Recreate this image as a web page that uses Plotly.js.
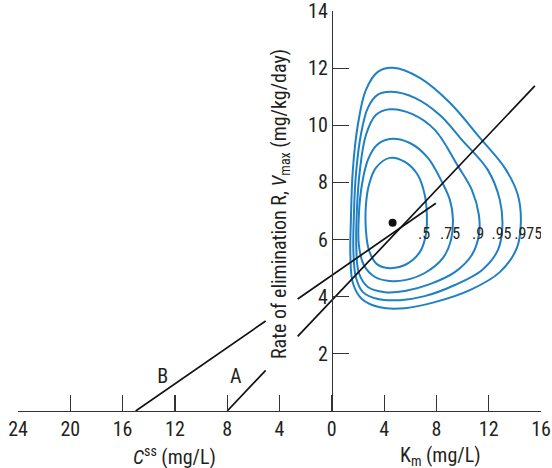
<!DOCTYPE html>
<html>
<head>
<meta charset="utf-8">
<script src="https://cdn.plot.ly/plotly-3.0.1.min.js"></script>
<style>html,body{margin:0;padding:0;background:#fff;}#chart{width:552px;height:468px;}</style>
</head>
<body>
<div id="chart"></div>
<script>
// x-axis tick values (left half = Css, right half = Km) and their printed labels
const xTickVals = [-24, -20, -16, -12, -8, -4, 0, 4, 8, 12, 16];
const xTickText = ['24', '20', '16', '12', '8', '4', '0', '4', '8', '12', '16'];
const yTickVals = [2, 4, 6, 8, 10, 12, 14];

// probability contours (Km, Vmax)
const contourLabels = ['.5', '.75', '.9', '.95', '.975'];
const c50x = [4.44, 5.59, 6.58, 7.11, 7.27, 7.19, 6.73, 5.59, 4.44, 3.45, 2.84, 2.61, 2.61, 2.84, 3.37, 4.44];
const c50y = [8.86, 8.72, 8.26, 7.56, 6.86, 6.16, 5.56, 5.11, 5.00, 5.14, 5.63, 6.33, 7.21, 7.91, 8.51, 8.86];
const c75x = [4.44, 5.97, 7.35, 8.42, 9.03, 9.26, 9.11, 8.49, 7.11, 5.59, 4.44, 3.30, 2.45, 2.07, 2.07, 2.30, 2.76, 3.45, 4.44];
const c75y = [9.52, 9.38, 8.86, 8.02, 7.39, 6.75, 5.98, 5.35, 4.83, 4.58, 4.55, 4.69, 5.11, 5.81, 6.86, 7.91, 8.79, 9.31, 9.52];
const c90x = [4.44, 6.12, 7.88, 9.64, 10.71, 11.25, 11.25, 10.71, 9.41, 7.50, 5.59, 4.06, 2.76, 2.07, 1.88, 1.92, 2.15, 2.61, 3.37, 4.44];
const c90y = [10.56, 10.40, 9.84, 8.58, 7.74, 6.86, 6.16, 5.46, 4.86, 4.44, 4.20, 4.16, 4.34, 4.83, 5.63, 7.03, 8.44, 9.66, 10.36, 10.56];
const c95x = [4.57, 6.35, 8.26, 9.95, 11.93, 12.85, 13.04, 12.70, 11.48, 9.41, 7.11, 5.21, 3.52, 2.38, 1.84, 1.65, 1.69, 1.84, 2.22, 2.76, 3.52, 4.57];
const c95y = [11.17, 10.96, 10.36, 9.49, 8.44, 7.39, 6.40, 5.63, 4.93, 4.41, 4.02, 3.88, 3.92, 4.16, 4.69, 5.63, 6.86, 8.26, 9.66, 10.61, 11.07, 11.17];
const c975x = [4.67, 6.73, 9.03, 11.33, 13.23, 14.23, 14.46, 14.15, 12.85, 10.56, 7.88, 5.59, 3.68, 2.30, 1.61, 1.42, 1.46, 1.61, 1.99, 2.61, 3.52, 4.67];
const c975y = [12.01, 11.66, 10.79, 9.56, 8.51, 7.56, 6.61, 5.70, 4.86, 4.23, 3.81, 3.60, 3.63, 3.92, 4.48, 5.46, 6.68, 8.44, 10.01, 11.24, 11.87, 12.01];
const contourLabelX = [7.06, 9.05, 11.19, 12.98, 15.02];
const contourLabelY = [6.16, 6.16, 6.16, 6.16, 6.16];

// population mean
const meanX = [4.65];
const meanY = [6.59];

// patient lines (gap where the axis title crosses)
const lineBx = [-15, -5.06, null, -2.61, 7.96];
const lineBy = [0, 3.15, null, 3.92, 7.27];
const lineAx = [-8, -5.06, null, -2.61, 15.53];
const lineAy = [0, 1.42, null, 2.61, 11.38];
const lineNames = ['B', 'A'];
const lineLabelX = [-12.94, -7.35];
const lineLabelY = [1.17, 1.17];

const FONT = '"Liberation Sans Narrow", "Arial Narrow", "Roboto Condensed", "Liberation Sans", Arial, sans-serif';
const TXT = '#231f20';
const BLUE = '#1f80c3';

const contours = [[c50x, c50y], [c75x, c75y], [c90x, c90y], [c95x, c95y], [c975x, c975y]];
const traces = contours.map((c, i) => ({
  x: c[0], y: c[1], mode: 'lines', type: 'scatter', name: contourLabels[i],
  line: {color: BLUE, width: 2, shape: 'spline', smoothing: 1},
  hoverinfo: 'skip', showlegend: false
}));
traces.push({x: lineBx, y: lineBy, mode: 'lines', type: 'scatter', line: {color: '#111', width: 1.7}, connectgaps: false, showlegend: false, hoverinfo: 'skip'});
traces.push({x: lineAx, y: lineAy, mode: 'lines', type: 'scatter', line: {color: '#111', width: 1.7}, connectgaps: false, showlegend: false, hoverinfo: 'skip'});
traces.push({x: meanX, y: meanY, mode: 'markers', type: 'scatter', marker: {color: '#111', size: 8}, showlegend: false, hoverinfo: 'skip'});
traces.push({x: contourLabelX, y: contourLabelY, mode: 'text', type: 'scatter', text: contourLabels,
  textfont: {family: FONT, size: 16, color: TXT}, textposition: 'middle center', showlegend: false, hoverinfo: 'skip'});
traces.push({x: lineLabelX, y: lineLabelY, mode: 'text', type: 'scatter', text: lineNames,
  textfont: {family: FONT, size: 20, color: TXT}, textposition: 'middle center', showlegend: false, hoverinfo: 'skip'});

const layout = {
  width: 552, height: 468,
  margin: {l: 18, r: 11, t: 11, b: 57, pad: 0},
  paper_bgcolor: '#fff', plot_bgcolor: '#fff',
  font: {family: FONT, size: 20, color: TXT},
  showlegend: false,
  xaxis: {
    range: [-24, 16], tickmode: 'array', tickvals: xTickVals, ticktext: xTickText,
    ticks: 'inside', ticklen: 16, tickwidth: 1.2, tickcolor: '#333',
    showline: true, linecolor: '#333', linewidth: 1.2,
    showgrid: false, zeroline: false, fixedrange: true,
    ticklabeloverflow: 'allow',
    tickfont: {family: FONT, size: 20, color: TXT}
  },
  yaxis: {
    range: [0, 14], anchor: 'free', position: 0.6, side: 'left',
    tickmode: 'array', tickvals: yTickVals,
    ticks: 'inside', ticklen: 16, tickwidth: 1.2, tickcolor: '#333',
    showline: true, linecolor: '#333', linewidth: 1.2,
    showgrid: false, zeroline: false, fixedrange: true,
    ticklabeloverflow: 'allow',
    tickfont: {family: FONT, size: 20, color: TXT}
  },
  annotations: [
    {x: -12, y: 0, xref: 'x', yref: 'paper', yshift: -45, yanchor: 'middle', showarrow: false,
     text: '<i>C</i><sup>ss</sup> (mg/L)', font: {family: FONT, size: 20, color: TXT}},
    {x: 8.3, y: 0, xref: 'x', yref: 'paper', yshift: -45, yanchor: 'middle', showarrow: false,
     text: 'K<sub>m</sub> (mg/L)', font: {family: FONT, size: 20, color: TXT}},
    {x: -3.95, y: 7.25, xref: 'x', yref: 'y', textangle: -90, showarrow: false,
     text: 'Rate of elimination R, <i>V</i><sub>max</sub> (mg/kg/day)', font: {family: FONT, size: 20, color: TXT}}
  ]
};

Plotly.newPlot('chart', traces, layout, {staticPlot: true, displayModeBar: false});
</script>
</body>
</html>
